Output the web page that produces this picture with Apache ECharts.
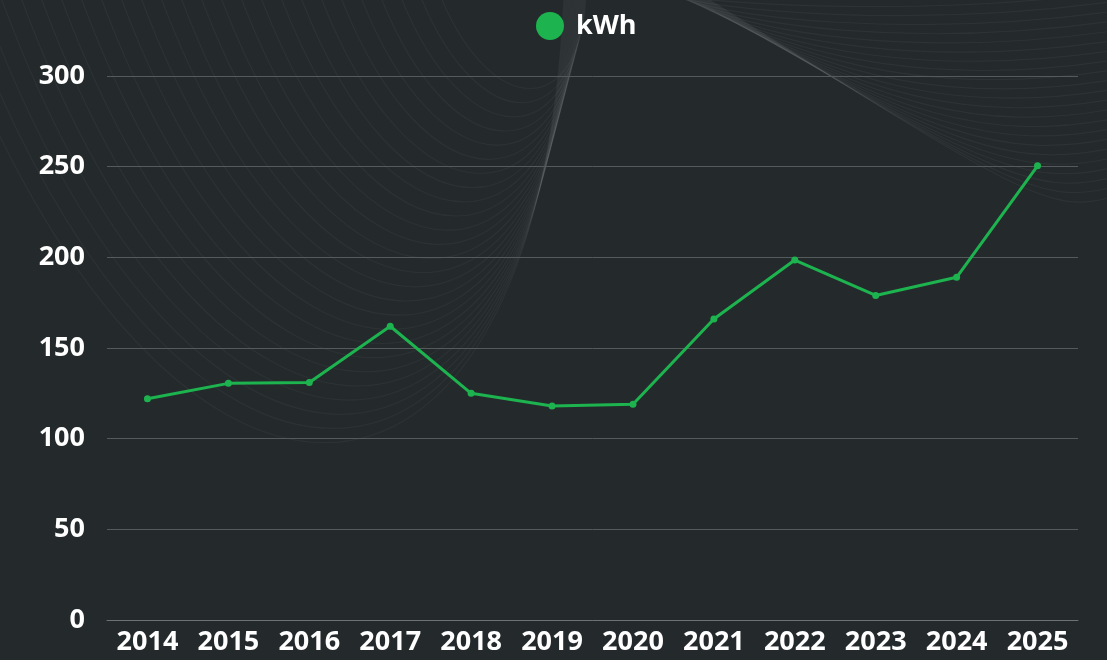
<!DOCTYPE html>
<html>
<head>
<meta charset="utf-8">
<script src="https://cdn.jsdelivr.net/npm/echarts@6/dist/echarts.min.js"></script>
<style>
  html, body { margin: 0; padding: 0; background: #242a2c; }
  #main { width: 1107px; height: 660px; }
</style>
</head>
<body>
<div id="main"></div>
<script>
    var myChart = echarts.init(document.getElementById('main'));

    // data
    var years = ['2014', '2015', '2016', '2017', '2018', '2019', '2020', '2021', '2022', '2023', '2024', '2025'];
    var kwh = [122, 130.5, 131, 162, 125, 118, 119, 166, 198.5, 179, 189, 250.5];
    var seriesName = 'kWh';

    // background waves (decoration only, not data)
    var waves = [];
    var n1 = 26;
    for (var i = 0; i < n1; i++) {
        var t = i / (n1 - 1);
        var x0 = 440 - 500 * t;
        var xe = 586 - 22 * t;
        var d = 90 + 355 * t;
        waves.push({
            type: 'bezierCurve',
            silent: true,
            z: -1,
            shape: {
                x1: x0, y1: -5,
                x2: xe, y2: -5,
                cpx1: x0 + 0.35 * (xe - x0), cpy1: d * 1.33,
                cpx2: xe - 0.04 * (xe - x0), cpy2: d * 1.33
            },
            style: { fill: null, stroke: 'rgba(255,255,255,0.04)', lineWidth: 1.2 }
        });
    }
    var n2 = 22;
    for (var j = 0; j < n2; j++) {
        var s = j / (n2 - 1);
        waves.push({
            type: 'bezierCurve',
            silent: true,
            z: -1,
            shape: {
                x1: 672 + 30 * s, y1: -5,
                x2: 1112, y2: 205 * s - 8,
                cpx1: 690 + 330 * s, cpy1: 195 * s,
                cpx2: 900 + 150 * s, cpy2: 195 * s + 20
            },
            style: { fill: null, stroke: 'rgba(255,255,255,0.045)', lineWidth: 1.2 }
        });
    }

    option = {
        backgroundColor: '#242a2c',
        textStyle: { fontFamily: 'Open Sans' },
        graphic: waves,
        legend: {
            top: 7,
            left: 531,
            icon: 'circle',
            itemWidth: 28,
            itemHeight: 28,
            textStyle: { color: '#ffffff', fontSize: 27, fontWeight: 'bold', fontFamily: 'Open Sans', padding: [0, 0, 0, 7] },
            data: [seriesName]
        },
        grid: { left: 107, right: 29, top: 76, bottom: 40 },
        xAxis: {
            type: 'category',
            data: years,
            axisLine: { lineStyle: { color: '#6d7273', width: 1 } },
            axisTick: { show: false },
            axisLabel: { color: '#ffffff', fontSize: 27, fontWeight: 'bold', margin: 9 }
        },
        yAxis: {
            type: 'value',
            min: 0,
            max: 300,
            interval: 50,
            axisLine: { show: false },
            axisTick: { show: false },
            axisLabel: { color: '#ffffff', fontSize: 27, fontWeight: 'bold', margin: 22 },
            splitLine: { lineStyle: { color: '#555b5c', width: 1 } }
        },
        series: [{
            name: seriesName,
            type: 'line',
            data: kwh,
            symbol: 'circle',
            symbolSize: 7,
            color: '#1db34f',
            lineStyle: { width: 3, color: '#1db34f' },
            itemStyle: { color: '#1db34f' }
        }]
    };

    myChart.setOption(option);
</script>
</body>
</html>
